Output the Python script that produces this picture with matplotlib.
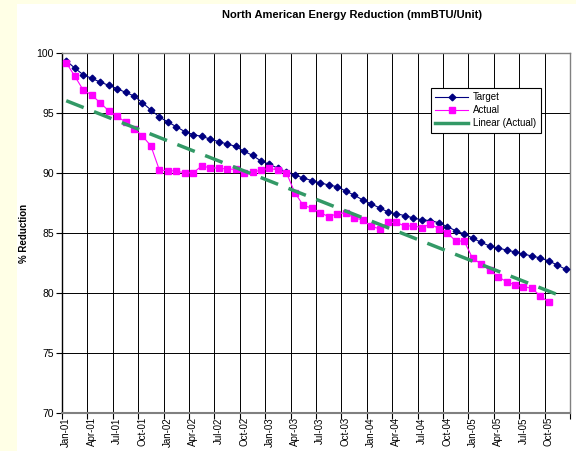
import numpy as np
import matplotlib
matplotlib.use("Agg")
import matplotlib.pyplot as plt
from matplotlib.patches import Rectangle
from matplotlib.lines import Line2D

plt.rcParams['font.family'] = ['Liberation Sans', 'DejaVu Sans']

# ---- data ----
target = [99.36, 98.75, 98.19, 97.89, 97.58, 97.31, 97.03, 96.72, 96.42, 95.86,
          95.25, 94.67, 94.25, 93.86, 93.45, 93.20, 93.05, 92.83, 92.61, 92.42,
          92.22, 91.81, 91.47, 91.00, 90.72, 90.40, 90.10, 89.81, 89.60, 89.36,
          89.18, 89.00, 88.86, 88.50, 88.16, 87.76, 87.43, 87.10, 86.75, 86.60,
          86.45, 86.25, 86.10, 86.03, 85.86, 85.53, 85.19, 84.92, 84.58, 84.22,
          83.92, 83.75, 83.58, 83.42, 83.25, 83.08, 82.92, 82.67, 82.33, 81.97]
actual = [99.19, 98.08, 96.92, 96.50, 95.86, 95.19, 94.72, 94.25, 93.70, 93.08,
          92.26, 90.25, 90.19, 90.17, 90.00, 90.02, 90.58, 90.44, 90.40, 90.33,
          90.31, 89.97, 90.05, 90.25, 90.39, 90.25, 90.03, 88.36, 87.30, 87.08,
          86.70, 86.36, 86.60, 86.69, 86.25, 86.10, 85.56, 85.35, 85.89, 85.88,
          85.57, 85.61, 85.44, 85.75, 85.36, 85.03, 84.33, 84.33, 82.89, 82.42,
          81.90, 81.36, 80.94, 80.67, 80.53, 80.39, 79.75, 79.22]
tick_labels = ['Jan-01', 'Apr-01', 'Jul-01', 'Oct-01', 'Jan-02', 'Apr-02', 'Jul-02',
               'Oct-02', 'Jan-03', 'Apr-03', 'Jul-03', 'Oct-03', 'Jan-04', 'Apr-04',
               'Jul-04', 'Oct-04', 'Jan-05', 'Apr-05', 'Jul-05', 'Oct-05']
n_categories = 60
series_names = ['Target', 'Actual', 'Linear (Actual)']

# ---- figure ----
fig = plt.figure(figsize=(5.76, 4.51), dpi=100)
fig.patch.set_facecolor('#FFFFE6')
fig.patches.append(Rectangle((17/576, 0), 1 - 17/576, 1 - 4/451,
                             transform=fig.transFigure, facecolor='white',
                             edgecolor='none', zorder=-10))

ax = fig.add_axes([62/576, 1 - 413/451, (570 - 62)/576, (413 - 53)/451])
ax.set_zorder(1)
ax.set_facecolor('white')

xt = np.arange(len(target)) + 0.5
xa = np.arange(len(actual)) + 0.5

h1, = ax.plot(xt, target, color='#000080', lw=0.8, marker='D', markersize=3.4,
              markerfacecolor='#000080', markeredgecolor='#000080', zorder=3)
h2, = ax.plot(xa, actual, color='#FF00FF', lw=0.8, marker='s', markersize=4.6,
              markerfacecolor='#FF00FF', markeredgecolor='#FF00FF', zorder=3)

coef = np.polyfit(np.arange(len(actual)), actual, 1)
xtr = np.arange(n_categories)
ax.plot(xtr + 0.5, np.polyval(coef, xtr), color='#339966', lw=2.5,
        dashes=(5.4, 3.2), zorder=4)
h3 = Line2D([], [], color='#339966', lw=2.5)

ax.set_xlim(0, n_categories)
ax.set_ylim(70, 100)

ax.set_yticks(np.arange(70, 101, 5))
ax.set_xticks(np.arange(0, n_categories + 1, 3))
ax.set_xticklabels([])
ax.set_xticks(np.arange(0, n_categories, 3) + 0.5, minor=True)
ax.set_xticklabels(tick_labels, minor=True, rotation=90, fontsize=7)
ax.tick_params(axis='x', which='minor', length=0, pad=3)
ax.tick_params(axis='x', which='major', length=4, width=0.8, direction='out')
ax.tick_params(axis='y', length=4, width=0.8, direction='out', labelsize=7.5, pad=2)

ax.grid(True, which='major', color='black', lw=0.7)
ax.set_axisbelow(True)
for s in ax.spines.values():
    s.set_color('#808080')
    s.set_linewidth(1.0)
ax.spines['left'].set_color('black')
ax.spines['bottom'].set_color('#808080')
ax.spines['bottom'].set_linewidth(1.5)

ax.set_ylabel('% Reduction', fontsize=7, fontweight='bold')
ax.yaxis.set_label_coords(-(62 - 29)/508, 0.5)
fig.text(352/576, 1 - 15/451, 'North American Energy Reduction (mmBTU/Unit)',
         ha='center', va='center', fontsize=8, fontweight='bold')

leg = ax.legend([h1, h2, h3], series_names, loc='upper left',
                bbox_to_anchor=((431 - 62)/508, (413 - 88)/360),
                fontsize=7, frameon=True, fancybox=False, framealpha=1,
                edgecolor='black', handlelength=3.4, borderpad=0.45,
                labelspacing=0.3, handletextpad=0.5, borderaxespad=0)
leg.get_frame().set_linewidth(0.8)

fig.savefig('out.png', dpi=100, facecolor=fig.get_facecolor())
